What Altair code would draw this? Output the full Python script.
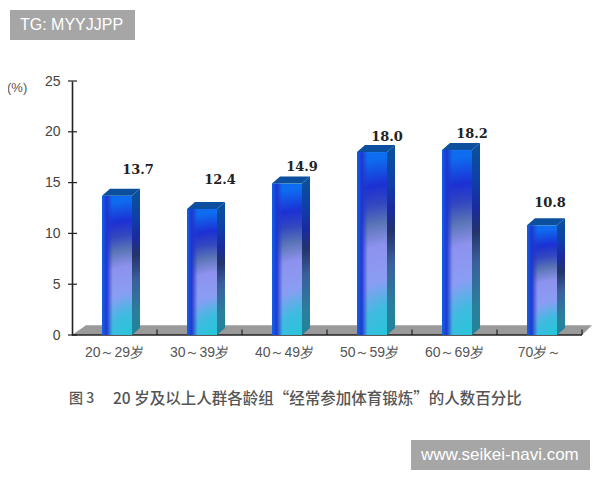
import altair as alt
import pandas as pd

categories = ["20～29岁", "30～39岁", "40～49岁", "50～59岁", "60～69岁", "70岁～"]
values = [13.7, 12.4, 14.9, 18.0, 18.2, 10.8]
label_texts = ["13.7", "12.4", "14.9", "18.0", "18.2", "10.8"]
label_levels = [16.24, 15.26, 16.54, 19.49, 19.78, 12.99]
label_shifts = [36, 33, 30, 30, 30, 23]
y_ticks = [0, 5, 10, 15, 20, 25]
caption_left = "图 3"
caption = "20 岁及以上人群各龄组“经常参加体育锻炼”的人数百分比"

BAND = 85
BAR_LEFT = 30
BAR_W = 30
DEPTH_X = 8
DEPTH_Y = 0.7

x_q = alt.Scale(domain=[0, 510])
y_q = alt.Scale(domain=[0, 25])


def stop(o, c):
    return alt.GradientStop(offset=o, color=c)


def radial(stops):
    return alt.RadialGradient(gradient="radial", x1=0.66, y1=1.05, r1=0, x2=0.66, y2=1.05, r2=1.02, stops=stops)


front_fill = radial([
    stop(0, "#16ccd4"), stop(0.22, "#3fbbe0"), stop(0.36, "#8a9df3"), stop(0.54, "#8d92ee"),
    stop(0.66, "#5a74b6"), stop(0.76, "#3348c0"), stop(0.86, "#1c30d4"), stop(1, "#0e6cf0"),
])
side_fill = radial([
    stop(0, "#0f8d96"), stop(0.25, "#2a7f9c"), stop(0.45, "#3a5f9c"), stop(0.6, "#24346c"),
    stop(0.72, "#1a2aa0"), stop(0.85, "#0f3fa8"), stop(1, "#0a4f9c"),
])
left_fill = alt.LinearGradient(gradient="linear", x1=0, y1=0, x2=1, y2=0, stops=[
    stop(0, "rgba(18,98,232,1)"), stop(0.16, "rgba(28,52,208,0.95)"), stop(0.36, "rgba(40,60,200,0)"), stop(1, "rgba(40,60,200,0)"),
])

rows = []
for i, (c, v) in enumerate(zip(categories, values)):
    rows.append({"c": c, "v": v, "left": i * BAND + BAR_LEFT, "right": i * BAND + BAR_LEFT + BAR_W})
df = pd.DataFrame(rows)

side_rows, top_rows = [], []
for r in rows:
    side_rows += [
        {"c": r["c"], "x": r["right"], "top": r["v"], "bot": 0},
        {"c": r["c"], "x": r["right"] + DEPTH_X, "top": r["v"] + DEPTH_Y, "bot": DEPTH_Y},
    ]
    top_rows += [
        {"c": r["c"], "x": r["left"], "top": r["v"], "bot": r["v"]},
        {"c": r["c"], "x": r["left"] + DEPTH_X, "top": r["v"] + DEPTH_Y, "bot": r["v"]},
        {"c": r["c"], "x": r["right"], "top": r["v"] + DEPTH_Y, "bot": r["v"]},
        {"c": r["c"], "x": r["right"] + DEPTH_X, "top": r["v"] + DEPTH_Y, "bot": r["v"] + DEPTH_Y},
    ]
side_df, top_df = pd.DataFrame(side_rows), pd.DataFrame(top_rows)

floor_df = pd.DataFrame([
    {"x": 0, "top": 0, "bot": 0},
    {"x": 14, "top": 0.95, "bot": 0},
    {"x": 510, "top": 0.95, "bot": 0},
    {"x": 520, "top": 0.95, "bot": 0.95},
])

X = alt.X("x:Q", scale=x_q, axis=None)
Y_top = alt.Y("top:Q", scale=y_q, axis=None)

floor = alt.Chart(floor_df).mark_area(color="#9a9a9a", opacity=1).encode(x=X, y=Y_top, y2="bot:Q")

axis_layer = alt.Chart(df).mark_bar(opacity=0).encode(
    x=alt.X("c:N", sort=categories, title=None, scale=alt.Scale(paddingInner=0, paddingOuter=0),
            axis=alt.Axis(labelAngle=0, ticks=False, domain=False, labelPadding=10, labelFontSize=14,
                          labelColor="#555555", labelFont="Liberation Sans", grid=False)),
    y=alt.Y("v:Q", scale=y_q, title=None,
            axis=alt.Axis(values=y_ticks, ticks=False, domainColor="#222222", domainWidth=1.6, zindex=1,
                          labelPadding=12, labelFontSize=14, labelColor="#444444",
                          labelFont="Liberation Sans", grid=False)),
)

x_line = alt.Chart(pd.DataFrame({"a": [0], "b": [510], "y": [0]})).mark_rule(color="#222222", strokeWidth=1.6).encode(
    x=alt.X("a:Q", scale=x_q, axis=None), x2="b:Q", y=alt.Y("y:Q", scale=y_q, axis=None))

x_ticks_df = pd.DataFrame({"x": [BAND * (i + 1) for i in range(6)], "y": [0] * 6, "y2": [0.55] * 6})
x_ticks = alt.Chart(x_ticks_df).mark_rule(color="#222222", strokeWidth=1.2).encode(
    x=X, y=alt.Y("y:Q", scale=y_q, axis=None), y2="y2:Q")

y_tick_df = pd.DataFrame({"y": y_ticks, "a": [-4] * 6, "b": [5] * 6})
y_tick_marks = alt.Chart(y_tick_df).mark_rule(color="#222222", strokeWidth=1.2).encode(
    x=alt.X("a:Q", scale=x_q, axis=None), x2="b:Q", y=alt.Y("y:Q", scale=y_q, axis=None))

front = alt.Chart(df).mark_rect(fill=front_fill).encode(
    x=alt.X("left:Q", scale=x_q, axis=None), x2="right:Q",
    y=alt.Y("v:Q", scale=y_q, axis=None), y2=alt.Y2(datum=0))
front_left = alt.Chart(df).mark_rect(fill=left_fill).encode(
    x=alt.X("left:Q", scale=x_q, axis=None), x2="right:Q",
    y=alt.Y("v:Q", scale=y_q, axis=None), y2=alt.Y2(datum=0))
side = alt.Chart(side_df).mark_area(fill=side_fill).encode(x=X, y=Y_top, y2="bot:Q", detail="c:N")
top = alt.Chart(top_df).mark_area(color="#0b4f9e").encode(x=X, y=Y_top, y2="bot:Q", detail="c:N")

label_df = pd.DataFrame({"t": label_texts, "y": label_levels,
                         "x": [r["left"] + s for r, s in zip(rows, label_shifts)]})
labels = alt.Chart(label_df).mark_text(font="DejaVu Serif", fontWeight="bold", fontSize=13, color="#222222").encode(
    x=X, y=alt.Y("y:Q", scale=y_q, axis=None), text="t:N")

one = pd.DataFrame({"a": [0]})


def note(text, px, py, size, color, font="Liberation Sans", align="left", weight="normal"):
    return alt.Chart(one).mark_text(text=text, fontSize=size, color=color, font=font, align=align,
                                    baseline="middle", fontWeight=weight).encode(
        x=alt.value(px - 72), y=alt.value(py - 81))


def box(x0, x1, y0, y1):
    return alt.Chart(one).mark_rect(color="#a6a6a6").encode(
        x=alt.value(x0 - 72), x2=alt.value(x1 - 72), y=alt.value(y0 - 81), y2=alt.value(y1 - 81))


chart = alt.layer(
    axis_layer, floor, x_line, x_ticks, y_tick_marks, front, front_left, side, top, labels,
    note("(%)", 7, 88, 13, "#555555"),
    note(caption_left, 69, 399, 14, "#555555", font="Noto Sans CJK SC", weight=500),
    note(caption, 113, 399, 15.5, "#555555", font="Noto Sans CJK SC", weight=500),
    box(10, 135, 10, 40),
    note("TG: MYYJJPP", 20, 25, 16, "#ffffff"),
    box(411, 590, 440, 470),
    note("www.seikei-navi.com", 421, 455, 17, "#ffffff"),
).resolve_scale(x="independent").resolve_axis(x="independent", y="independent").properties(
    width=510, height=254, autosize="none",
    padding={"left": 64, "top": 73, "right": 10, "bottom": 137},
    background="white",
).configure_view(stroke=None)

chart.save("out.html", embed_options={"renderer": "svg", "actions": False})
